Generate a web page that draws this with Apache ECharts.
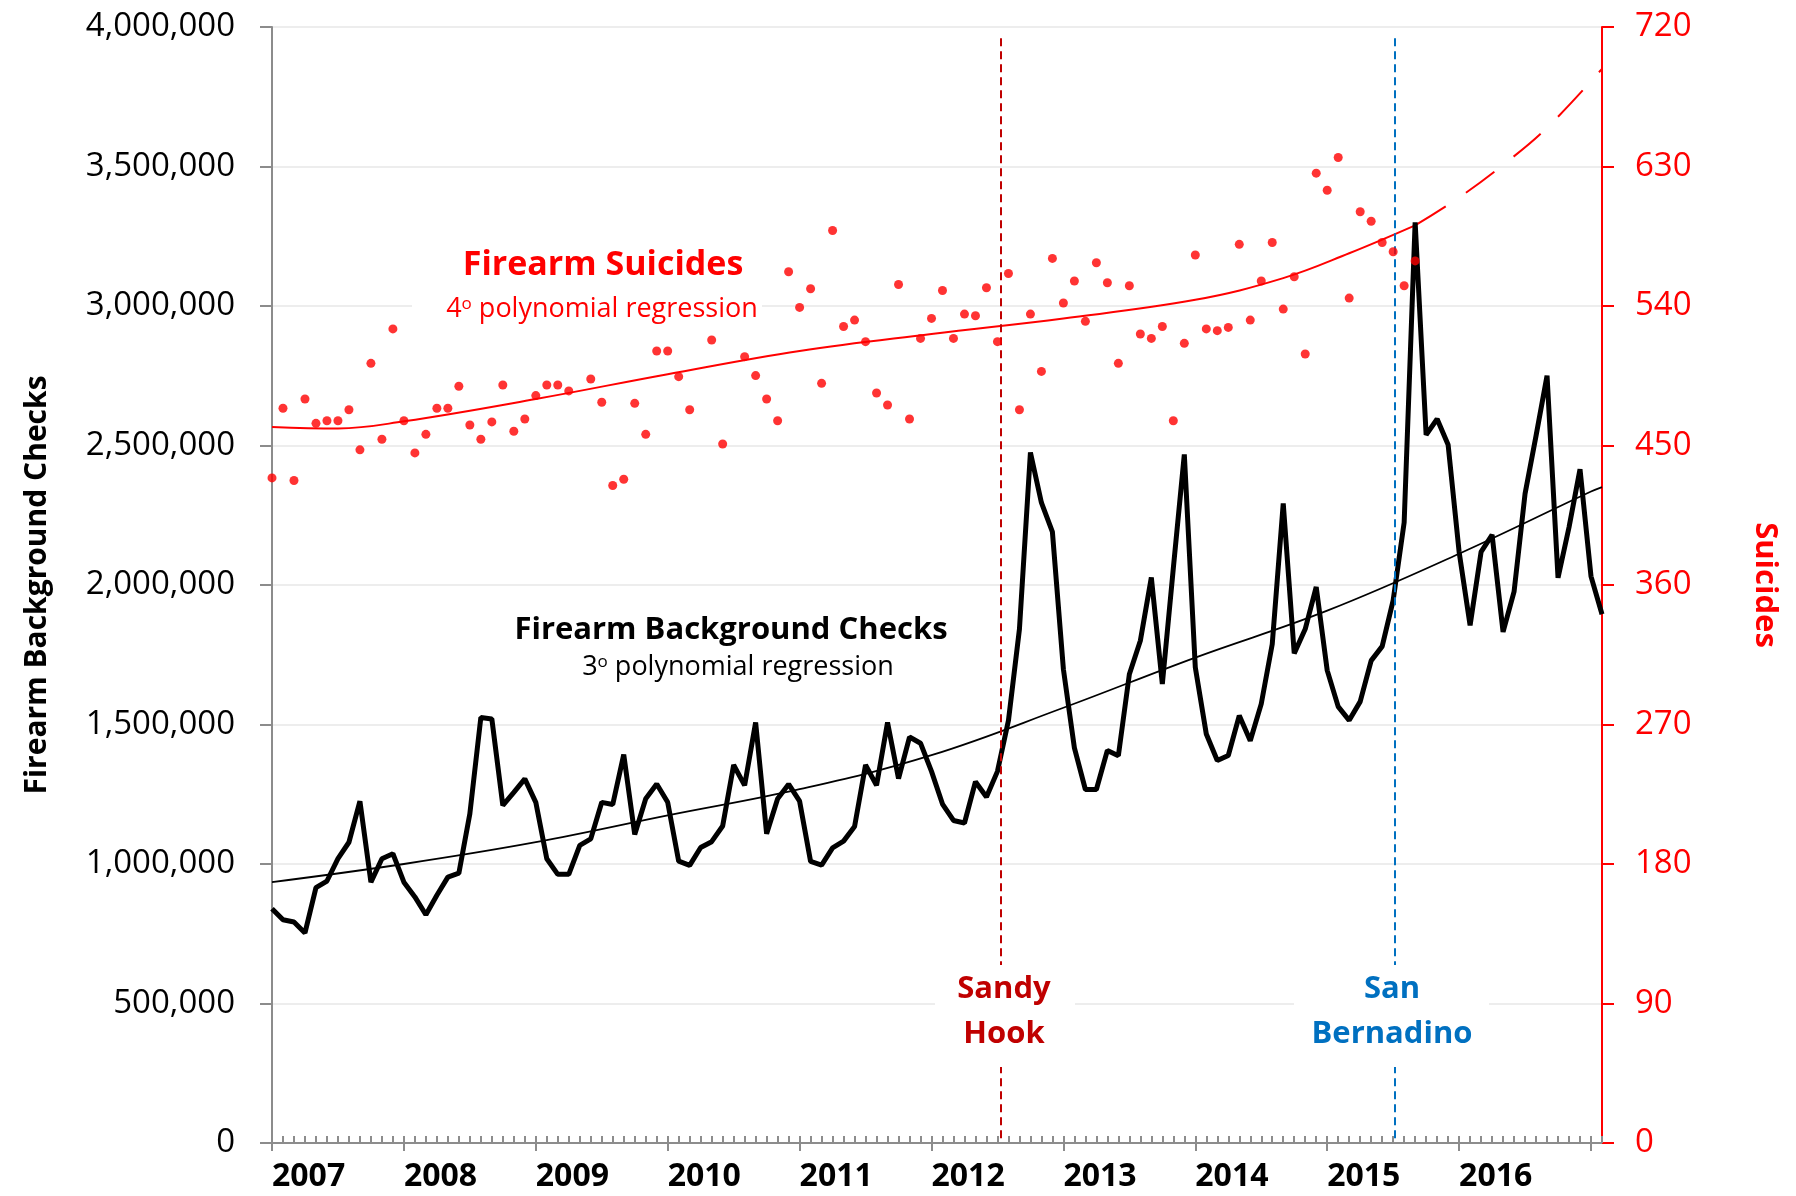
<!DOCTYPE html>
<html>
<head>
<meta charset="utf-8">
<title>Firearm Background Checks and Firearm Suicides</title>
<script src="https://cdn.jsdelivr.net/npm/echarts@6/dist/echarts.min.js"></script>
<style>
  html, body { margin: 0; padding: 0; background: #fff; }
  #chart { width: 1796px; height: 1196px; }
</style>
</head>
<body>
<div id="chart"></div>
<script>
'use strict';
// year labels sit on every 12th month tick
const years = ['2007', '2008', '2009', '2010', '2011', '2012', '2013', '2014', '2015', '2016'];

// monthly firearm background checks (month index 0..121)
const checks = [
  840000, 800000, 792000, 753000, 915000, 939000, 1019000, 1078000, 1225000, 935000, 1019000, 1037000,
  935000, 882000, 818000, 888000, 953000, 967000, 1180000, 1525000, 1520000, 1210000, 1257000, 1305000,
  1221000, 1019000, 963000, 963000, 1067000, 1090000, 1221000, 1213000, 1392000, 1106000, 1234000, 1287000,
  1221000, 1010000, 995000, 1059000, 1080000, 1136000, 1355000, 1282000, 1507000, 1108000, 1234000, 1286000,
  1225000, 1009000, 996000, 1058000, 1082000, 1134000, 1355000, 1282000, 1507000, 1306000, 1455000, 1433000,
  1332000, 1215000, 1156000, 1147000, 1295000, 1240000, 1332000, 1514000, 1842000, 2475000, 2295000, 2190000,
  1698000, 1416000, 1267000, 1267000, 1407000, 1388000, 1680000, 1800000, 2027000, 1645000, 2060000, 2468000,
  1705000, 1466000, 1371000, 1389000, 1532000, 1442000, 1574000, 1788000, 2292000, 1755000, 1842000, 1993000,
  1694000, 1564000, 1515000, 1582000, 1729000, 1780000, 1945000, 2224000, 3300000, 2538000, 2595000, 2503000,
  2119000, 1855000, 2119000, 2180000, 1832000, 1976000, 2327000, 2535000, 2750000, 2026000, 2207000, 2415000,
  2031000, 1895000
];

// monthly firearm suicides (month index 0..104), null = hidden behind the label
const suicides = [
  429.1, 474.0, 427.4, 480.0, 464.3, 466.0, 466.0, 473.1, 447.2, 503.0, 454.0, 525.2,
  466.0, 445.2, 457.2, 474.0, 474.0, 488.2, 463.2, 454.0, 465.2, 489.0, 459.2, 467.1,
  482.2, 489.0, 489.0, 485.2, null, 492.9, 477.9, 424.2, 428.2, 477.2, 457.2, 511.0,
  511.0, 494.4, 473.1, null, 518.1, 451.0, null, 507.3, 495.1, 480.0, 466.0, 562.1,
  539.1, 551.1, 490.1, 588.7, 526.8, 530.9, 517.0, 483.9, 476.1, 553.9, 467.1, 519.1,
  532.0, 550.0, 519.1, 534.8, 533.7, 551.8, 517.0, 561.0, 473.1, 534.8, 497.8, 570.7,
  541.9, 556.1, 530.1, 567.9, 555.0, 503.0, 553.1, 521.9, 519.1, 526.8, 466.0, 515.9,
  572.9, 525.2, 524.1, 526.2, 579.8, 530.9, 556.1, 581.0, 538.0, 558.9, 509.0, 625.7,
  614.7, 635.8, 545.1, 600.8, 594.7, 581.0, 575.0, 553.1, 569.1
];

// regression curves at a few months
const checksTrendMonths = [0, 12, 24, 36, 48, 60, 72, 84, 96, 108, 120, 121];
const checksTrend = [935000, 1000000, 1078000, 1174000, 1268000, 1390000, 1560000, 1740000, 1908000, 2112000, 2335000, 2351000];
const suicideTrendMonths = [0, 6, 12, 24, 36, 48, 60, 72, 84, 92, 98, 104];
const suicideTrend = [462, 461, 465.6, 480, 496, 511, 522, 532, 544, 558, 574, 592];
const suicideProjMonths = [104, 108, 112, 116, 121];
const suicideProj = [592, 610, 631, 655, 693];

// events (month index of the vertical lines)
const eventNames = ['Sandy\nHook', 'San\nBernadino'];
const eventMonths = [66.3, 102.1];

const FONT = "'Open Sans', 'Noto Sans', sans-serif";
const GREY = '#8c8c8c';
const RED = '#ff0000';

function pairs(xs, ys) {
  return xs.map((x, i) => [x, ys[i]]);
}

const allMonths = [];
for (let m = 0; m <= 121; m++) allMonths.push(m);
const yearMonths = years.map((y, i) => i * 12);
const majorTicks = yearMonths.concat([120]);

let myChart = echarts.init(document.getElementById('chart'), null, { renderer: 'canvas' });

let option = {
  animation: false,
  backgroundColor: '#fff',
  grid: { left: 272, right: 194, top: 27, bottom: 53, outerBoundsMode: 'none' },
  xAxis: [
    {
      type: 'value', min: 0, max: 121, position: 'bottom',
      axisLine: { show: true, onZero: false, lineStyle: { color: GREY, width: 2 } },
      axisTick: { show: true, customValues: majorTicks, length: 8, inside: false, lineStyle: { color: GREY, width: 2 } },
      axisLabel: {
        customValues: yearMonths, align: 'left', margin: 18,
        formatter: v => years[Math.round(v / 12)] || '',
        color: '#000', fontFamily: FONT, fontWeight: 'bold', fontSize: 32
      },
      splitLine: { show: false }
    },
    {
      type: 'value', min: 0, max: 121, position: 'bottom',
      axisLine: { show: false, onZero: false },
      axisTick: { show: true, customValues: allMonths, length: 7, inside: true, lineStyle: { color: GREY, width: 2 } },
      axisLabel: { show: false },
      splitLine: { show: false }
    }
  ],
  yAxis: [
    {
      type: 'value', min: 0, max: 4000000, interval: 500000, position: 'left',
      name: 'Firearm Background Checks', nameLocation: 'middle', nameGap: 220,
      nameTextStyle: { color: '#000', fontFamily: FONT, fontWeight: 'bold', fontSize: 30 },
      axisLine: { show: true, onZero: false, lineStyle: { color: GREY, width: 2 } },
      axisTick: { show: true, length: 12, lineStyle: { color: GREY, width: 2 } },
      axisLabel: {
        margin: 37, color: '#000', fontFamily: FONT, fontSize: 33,
        formatter: v => v.toLocaleString('en-US')
      },
      splitLine: { show: true, lineStyle: { color: '#ededed', width: 2 } }
    },
    {
      type: 'value', min: 0, max: 720, interval: 90, position: 'right',
      name: 'Suicides', nameLocation: 'middle', nameGap: 147, nameRotate: -90,
      nameTextStyle: { color: RED, fontFamily: FONT, fontWeight: 'bold', fontSize: 31 },
      axisLine: { show: true, onZero: false, lineStyle: { color: RED, width: 2 } },
      axisTick: { show: true, length: 12, lineStyle: { color: RED, width: 2 } },
      axisLabel: { margin: 33, color: RED, fontFamily: FONT, fontSize: 33 },
      splitLine: { show: false }
    }
  ],
  series: [
    {
      name: 'checks', type: 'line', xAxisIndex: 0, yAxisIndex: 0,
      data: checks.map((v, i) => [i, v]),
      showSymbol: false, z: 4,
      lineStyle: { color: '#000', width: 5 },
      markLine: {
        silent: true, symbol: 'none',
        label: { show: false },
        data: eventMonths.map((m, i) => [
          { coord: [m, 3960000], lineStyle: { color: i === 0 ? '#c00000' : '#0070c0', width: 2, type: [8, 5] } },
          { coord: [m, 0] }
        ])
      }
    },
    {
      name: 'checks trend', type: 'line', xAxisIndex: 0, yAxisIndex: 0,
      data: pairs(checksTrendMonths, checksTrend),
      showSymbol: false, smooth: 0.4, z: 3,
      lineStyle: { color: '#000', width: 1.8 }
    },
    {
      name: 'suicides trend', type: 'line', xAxisIndex: 0, yAxisIndex: 1,
      data: pairs(suicideTrendMonths, suicideTrend),
      showSymbol: false, smooth: 0.4, z: 3,
      lineStyle: { color: RED, width: 2 }
    },
    {
      name: 'suicides projection', type: 'line', xAxisIndex: 0, yAxisIndex: 1,
      data: pairs(suicideProjMonths, suicideProj),
      showSymbol: false, smooth: 0.4, z: 3,
      lineStyle: { color: RED, width: 2, type: [36, 24] }
    },
    {
      name: 'suicides', type: 'scatter', xAxisIndex: 0, yAxisIndex: 1,
      data: suicides.map((v, i) => [i, v]).filter(p => p[1] !== null),
      symbol: 'circle', symbolSize: 9, z: 5,
      itemStyle: { color: RED }
    }
  ],
  graphic: [
    { type: 'rect', z: 100, shape: { x: 412, y: 232, width: 350, height: 101 }, style: { fill: '#fff' } },
    { type: 'text', z: 101, x: 603, y: 265,
      style: { text: 'Firearm Suicides', fill: RED, font: "bold 34px " + FONT, align: 'center', verticalAlign: 'middle' } },
    { type: 'text', z: 101, x: 602, y: 309,
      style: {
        text: '{a|4}{b|o}{a| polynomial regression}', align: 'center', verticalAlign: 'middle',
        rich: {
          a: { fill: RED, fontFamily: FONT, fontSize: 27 },
          b: { fill: RED, fontFamily: FONT, fontSize: 17, verticalAlign: 'top' }
        }
      } },
    { type: 'text', z: 101, x: 731, y: 630,
      style: { text: 'Firearm Background Checks', fill: '#000', font: "bold 31px " + FONT, align: 'center', verticalAlign: 'middle' } },
    { type: 'text', z: 101, x: 738, y: 667,
      style: {
        text: '{a|3}{b|o}{a| polynomial regression}', align: 'center', verticalAlign: 'middle',
        rich: {
          a: { fill: '#000', fontFamily: FONT, fontSize: 27 },
          b: { fill: '#000', fontFamily: FONT, fontSize: 17, verticalAlign: 'top' }
        }
      } },
    { type: 'rect', z: 100, shape: { x: 935, y: 965, width: 140, height: 102 }, style: { fill: '#fff' } },
    { type: 'text', z: 101, x: 1004, y: 1012,
      style: { text: eventNames[0], fill: '#c00000', font: "bold 31px " + FONT, lineHeight: 45, align: 'center', verticalAlign: 'middle' } },
    { type: 'rect', z: 100, shape: { x: 1294, y: 965, width: 195, height: 102 }, style: { fill: '#fff' } },
    { type: 'text', z: 101, x: 1392, y: 1012,
      style: { text: eventNames[1], fill: '#0070c0', font: "bold 31px " + FONT, lineHeight: 45, align: 'center', verticalAlign: 'middle' } }
  ]
};

myChart.setOption(option);
</script>
</body>
</html>
